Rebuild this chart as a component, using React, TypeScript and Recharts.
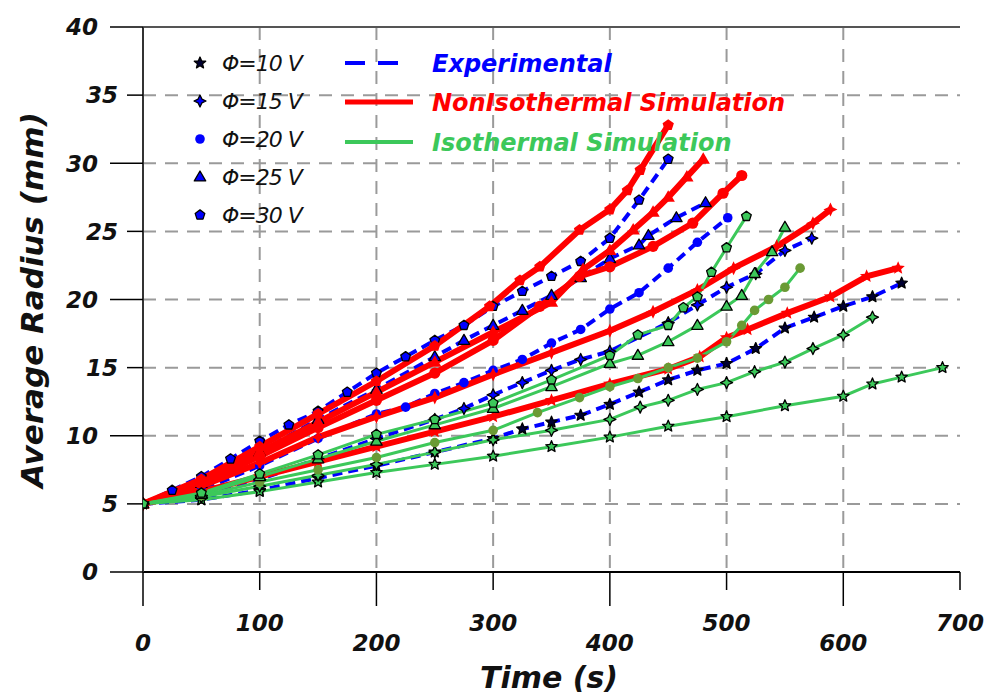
import React from "react";
import { CartesianGrid, Line, LineChart, ReferenceLine, XAxis, YAxis } from "recharts";

type Pt = [number, number];
type Shape = "star" | "spark" | "circle" | "triangle" | "pentagon";

// time (s) vs average radius (mm)
const exp10: Pt[] = [[0, 5], [50, 5.3], [100, 6.0], [150, 6.9], [200, 7.8], [250, 8.8], [300, 9.8], [325, 10.5], [350, 11.0], [375, 11.5], [400, 12.3], [425, 13.2], [450, 14.1], [475, 14.8], [500, 15.3], [525, 16.4], [550, 17.9], [575, 18.7], [600, 19.5], [625, 20.2], [650, 21.2]];
const exp15: Pt[] = [[0, 5], [50, 5.6], [100, 6.8], [150, 8.3], [200, 9.8], [250, 11.2], [275, 12.0], [300, 13.0], [325, 13.9], [350, 14.8], [375, 15.6], [400, 16.2], [450, 18.3], [475, 19.6], [500, 20.9], [525, 21.9], [550, 23.6], [573, 24.5]];
const exp20: Pt[] = [[0, 5], [50, 6.0], [100, 7.8], [150, 9.8], [200, 11.6], [225, 12.1], [250, 13.1], [275, 13.9], [300, 14.8], [325, 15.6], [350, 16.8], [375, 17.8], [400, 19.3], [425, 20.5], [450, 22.3], [475, 24.2], [501, 26.0]];
const exp25: Pt[] = [[0, 5], [50, 6.5], [100, 8.8], [150, 11.2], [200, 13.4], [250, 15.8], [275, 17.0], [300, 18.1], [325, 19.2], [350, 20.3], [375, 21.6], [400, 23.0], [425, 24.0], [433, 24.7], [457, 26.0], [482, 27.1]];
const exp30: Pt[] = [[0, 5], [25, 6.0], [50, 7.0], [75, 8.3], [100, 9.6], [125, 10.8], [150, 11.8], [175, 13.2], [200, 14.6], [225, 15.8], [250, 17.0], [275, 18.1], [300, 19.5], [325, 20.6], [350, 21.7], [375, 22.8], [400, 24.5], [425, 27.3], [450, 30.3]];

const non10: Pt[] = [[0, 5], [50, 5.9], [100, 7.0], [150, 8.1], [200, 9.2], [250, 10.3], [300, 11.4], [350, 12.6], [400, 13.8], [450, 14.9], [477, 15.8], [500, 17.2], [518, 17.8], [552, 19.0], [589, 20.2], [620, 21.7], [647, 22.3]];
const non15: Pt[] = [[0, 5], [50, 6.3], [100, 8.0], [150, 9.9], [200, 11.4], [250, 12.8], [300, 14.5], [350, 16.1], [400, 17.7], [437, 19.1], [475, 20.7], [506, 22.3], [543, 23.9], [574, 25.6], [589, 26.6]];
const non20: Pt[] = [[0, 5], [50, 6.5], [100, 8.5], [150, 10.6], [200, 12.6], [250, 14.6], [300, 17.0], [340, 19.5], [374, 21.7], [400, 22.4], [437, 23.9], [471, 25.6], [497, 27.8], [513, 29.1]];
const non25: Pt[] = [[0, 5], [50, 6.6], [100, 8.8], [150, 11.0], [200, 13.2], [250, 15.4], [300, 17.6], [350, 19.8], [377, 22.2], [400, 23.6], [420, 25.1], [437, 26.4], [450, 27.5], [466, 29.0], [480, 30.3]];
const non30: Pt[] = [[0, 5], [50, 6.8], [100, 9.2], [150, 11.6], [200, 14.0], [250, 16.6], [297, 19.5], [323, 21.4], [340, 22.4], [374, 25.1], [400, 26.6], [415, 28.0], [426, 29.5], [450, 32.8]];

const iso10: Pt[] = [[0, 5], [50, 5.3], [100, 5.9], [150, 6.6], [200, 7.3], [250, 7.9], [300, 8.5], [350, 9.2], [400, 9.9], [450, 10.7], [500, 11.4], [550, 12.2], [600, 12.9], [625, 13.8], [650, 14.3], [685, 15.0]];
const iso15: Pt[] = [[0, 5], [50, 5.5], [100, 6.3], [150, 7.1], [200, 7.9], [250, 8.8], [300, 9.7], [350, 10.4], [400, 11.2], [426, 12.1], [450, 12.6], [475, 13.4], [500, 13.9], [524, 14.7], [550, 15.4], [574, 16.4], [600, 17.4], [625, 18.7]];
const iso20: Pt[] = [[0, 5], [50, 5.6], [100, 6.6], [150, 7.5], [200, 8.4], [250, 9.5], [300, 10.4], [338, 11.7], [374, 12.8], [400, 13.6], [424, 14.2], [450, 15.0], [475, 15.7], [500, 16.9], [513, 18.1], [524, 19.2], [536, 20.0], [550, 20.9], [563, 22.3]];
const iso25: Pt[] = [[0, 5], [50, 5.7], [100, 7.0], [150, 8.3], [200, 9.6], [250, 10.8], [300, 12.0], [350, 13.6], [400, 15.3], [424, 15.9], [450, 16.9], [475, 18.1], [500, 19.5], [513, 20.3], [524, 21.9], [539, 23.5], [550, 25.3]];
const iso30: Pt[] = [[0, 5], [50, 5.8], [100, 7.2], [150, 8.6], [200, 10.1], [250, 11.2], [300, 12.4], [350, 14.1], [400, 15.9], [424, 17.4], [450, 18.1], [463, 19.4], [475, 20.2], [487, 22.0], [500, 23.8], [517, 26.1]];

const xTicks = [0, 100, 200, 300, 400, 500, 600, 700];
const yTicks = [0, 5, 10, 15, 20, 25, 30, 35, 40];
const gridXValues = [100, 200, 300, 400, 500, 600];
const gridYValues = [5, 10, 15, 20, 25, 30, 35];
const voltages = ["Φ=10 V", "Φ=15 V", "Φ=20 V", "Φ=25 V", "Φ=30 V"];
const methods = ["Experimental", "NonIsothermal Simulation", "Isothermal Simulation"];

const X_MAX = 700;
const Y_MAX = 40;
const BLUE = "#0000ff";
const RED = "#ff0000";
const GREEN = "#3cc85a";
const OLIVE = "#6a9a34";
const FONT = '"DejaVu Sans", sans-serif';

const toRows = (pts: Pt[]) => pts.map(([t, r]) => ({ t, r }));

function Marker({ shape, cx, cy, size, fill, stroke }: { shape: Shape; cx: number; cy: number; size: number; fill: string; stroke: string }) {
  const sw = stroke === "none" ? 0 : 1.3;
  if (shape === "circle") {
    return <circle cx={cx} cy={cy} r={size * 0.8} fill={fill} stroke={stroke} strokeWidth={sw} />;
  }
  let pts: number[][] = [];
  if (shape === "star") {
    for (let i = 0; i < 10; i++) {
      const a = -Math.PI / 2 + (i * Math.PI) / 5;
      const rr = i % 2 === 0 ? size : size * 0.45;
      pts.push([cx + rr * Math.cos(a), cy + rr * Math.sin(a)]);
    }
  } else if (shape === "spark") {
    for (let i = 0; i < 8; i++) {
      const a = -Math.PI / 2 + (i * Math.PI) / 4;
      const rr = i % 2 === 0 ? size : size * 0.45;
      pts.push([cx + rr * Math.cos(a), cy + rr * Math.sin(a)]);
    }
  } else if (shape === "triangle") {
    pts = [[cx, cy - size], [cx + size * 0.95, cy + size * 0.65], [cx - size * 0.95, cy + size * 0.65]];
  } else {
    for (let i = 0; i < 5; i++) {
      const a = -Math.PI / 2 + (i * 2 * Math.PI) / 5;
      pts.push([cx + size * 0.85 * Math.cos(a), cy + size * 0.85 * Math.sin(a)]);
    }
  }
  return <polygon points={pts.map((p) => p.join(",")).join(" ")} fill={fill} stroke={stroke} strokeWidth={sw} strokeLinejoin="round" />;
}

const makeDot = (shape: Shape, fill: string, stroke: string, size: number) => (p: any) => {
  if (p.cx == null || p.cy == null) return <g key={`e-${p.index}`} />;
  return <Marker key={`m-${p.index}`} shape={shape} cx={p.cx} cy={p.cy} size={size} fill={fill} stroke={stroke} />;
};

const shapes: Shape[] = ["star", "spark", "circle", "triangle", "pentagon"];

const expSeries = [exp10, exp15, exp20, exp25, exp30];
const nonSeries = [non10, non15, non20, non25, non30];
const isoSeries = [iso10, iso15, iso20, iso25, iso30];

function YTick(p: any) {
  const v = p.payload.value as number;
  const major = v % 10 === 0;
  return (
    <g>
      <line x1={major ? 110 : 127} x2={143} y1={p.y} y2={p.y} stroke="#000" strokeWidth={1.5} />
      <text x={major ? 98 : 118} y={p.y} dy="0.36em" textAnchor="end" fontFamily={FONT} fontWeight="bold" fontStyle="italic" fontSize={23} fill="#111">
        {v}
      </text>
    </g>
  );
}

function XTick(p: any) {
  const v = p.payload.value as number;
  const major = v % 200 === 0;
  return (
    <g>
      <line x1={p.x} x2={p.x} y1={572} y2={major ? 606 : 590} stroke="#000" strokeWidth={1.5} />
      <text x={p.x} y={major ? 643 : 623} dy="0.36em" textAnchor="middle" fontFamily={FONT} fontWeight="bold" fontStyle="italic" fontSize={23} fill="#111">
        {v}
      </text>
    </g>
  );
}

function Overlay() {
  const rowY = [63, 101, 139, 177, 215];
  const expFill = ["#000033", BLUE, BLUE, BLUE, BLUE];
  const expStroke = ["#000", "#000", "none", "#000", "#000"];
  const lineY = [63, 102, 142];
  const colors = [BLUE, RED, GREEN];
  return (
    <svg width={986} height={697} style={{ position: "absolute", left: 0, top: 0, pointerEvents: "none" }}>
      <text transform="translate(32,300) rotate(-90)" textAnchor="middle" dy="0.36em" fontFamily={FONT} fontWeight="bold" fontStyle="italic" fontSize={31} fill="#111">
        Average Radius (mm)
      </text>
      <text x={549} y={677} textAnchor="middle" dy="0.36em" fontFamily={FONT} fontWeight="bold" fontStyle="italic" fontSize={30} fill="#111">
        Time (s)
      </text>
      {voltages.map((v, i) => (
        <g key={v}>
          <Marker shape={shapes[i]} cx={200} cy={rowY[i]} size={6} fill={expFill[i]} stroke={expStroke[i]} />
          <text x={222} y={rowY[i]} dy="0.36em" fontFamily={FONT} fontStyle="italic" fontSize={22} letterSpacing={-1} fill="#111">
            {v}
          </text>
        </g>
      ))}
      {methods.map((m, i) => (
        <g key={m}>
          <line x1={345} x2={i === 0 ? 398 : 413} y1={lineY[i]} y2={lineY[i]} stroke={colors[i]} strokeWidth={i === 1 ? 5 : 4} strokeDasharray={i === 0 ? "20 13" : undefined} />
          <text x={432} y={lineY[i]} dy="0.36em" fontFamily={FONT} fontWeight="bold" fontStyle="italic" fontSize={24} fill={colors[i]}>
            {m}
          </text>
        </g>
      ))}
    </svg>
  );
}

// grid positions follow the plot offset so the dashed lines stop short of the 0/700 and 0/40 edges
const gridX = (props: any) => {
  const o = props.offset;
  return gridXValues.map((v) => o.left + (o.width * v) / X_MAX);
};
const gridY = (props: any) => {
  const o = props.offset;
  return gridYValues.map((v) => o.top + o.height - (o.height * v) / Y_MAX);
};

export default function App() {
  return (
    <div style={{ position: "absolute", left: 0, top: 0, width: 986, height: 697, background: "#fff" }}>
      <LineChart width={986} height={697} margin={{ top: 27, right: 26, left: 0, bottom: 0 }}>
        <CartesianGrid
          stroke="#9a9a9a"
          strokeWidth={2}
          strokeDasharray="13 9"
          verticalCoordinatesGenerator={gridX}
          horizontalCoordinatesGenerator={gridY}
        />
        <ReferenceLine y={40} stroke="#555" strokeWidth={2} />
        <XAxis
          type="number"
          dataKey="t"
          domain={[0, X_MAX]}
          ticks={xTicks}
          height={125}
          interval={0}
          tickLine={false}
          axisLine={{ stroke: "#000", strokeWidth: 2 }}
          tick={<XTick />}
          allowDataOverflow
        />
        <YAxis
          type="number"
          dataKey="r"
          domain={[0, Y_MAX]}
          ticks={yTicks}
          width={143}
          interval={0}
          tickLine={false}
          axisLine={{ stroke: "#333", strokeWidth: 2 }}
          tick={<YTick />}
          allowDataOverflow
        />
        {expSeries.map((s, i) => (
          <Line
            key={`exp${i}`}
            data={toRows(s)}
            dataKey="r"
            type="linear"
            stroke={BLUE}
            strokeWidth={4}
            strokeDasharray="10 6"
            dot={makeDot(shapes[i], i === 0 ? "#000033" : BLUE, i === 2 ? "none" : "#000", 6)}
            isAnimationActive={false}
          />
        ))}
        {nonSeries.map((s, i) => (
          <Line
            key={`non${i}`}
            data={toRows(s)}
            dataKey="r"
            type="linear"
            stroke={RED}
            strokeWidth={6}
            dot={makeDot(shapes[i], RED, "none", 7)}
            isAnimationActive={false}
          />
        ))}
        {isoSeries.map((s, i) => (
          <Line
            key={`iso${i}`}
            data={toRows(s)}
            dataKey="r"
            type="linear"
            stroke={GREEN}
            strokeWidth={3}
            dot={makeDot(shapes[i], i === 2 ? OLIVE : GREEN, i === 2 ? "none" : "#000", 6)}
            isAnimationActive={false}
          />
        ))}
      </LineChart>
      <Overlay />
    </div>
  );
}
